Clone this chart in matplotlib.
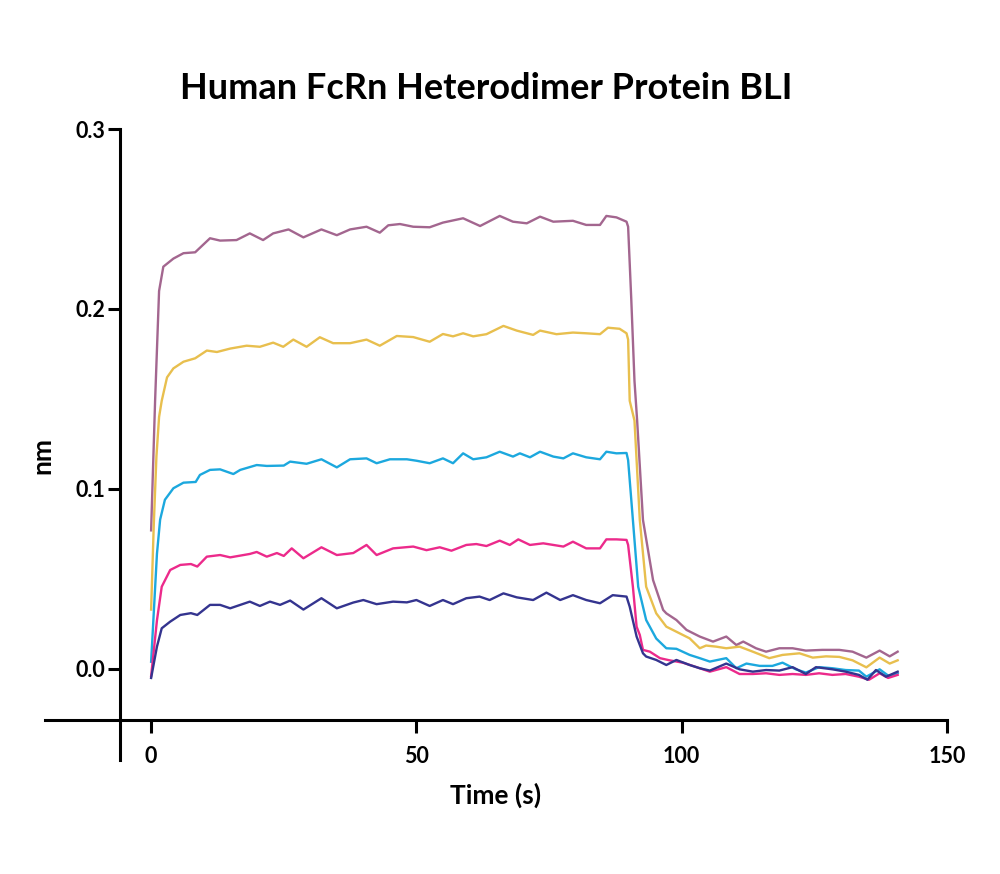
import matplotlib
matplotlib.use("Agg")
import matplotlib.pyplot as plt

plt.rcParams['font.family'] = ['Lato', 'DejaVu Sans']

title = "Human FcRn Heterodimer Protein BLI"
xlabel = "Time (s)"
ylabel = "nm"
xticks = [0, 50, 100, 150]
yticks = [0.0, 0.1, 0.2, 0.3]
ytick_labels = ["0.0", "0.1", "0.2", "0.3"]

# ---- series ----
purple_t = [0, 0.75, 1.5, 2.3, 4.2, 6.1, 8.3, 11.1, 13, 16.1, 18.6, 21.1, 23, 25.9, 28.7,
            32.1, 35, 37.5, 40.6, 43.1, 44.7, 46.9, 49.4, 52.5, 55, 58.8, 62, 65.7, 68.2,
            70.8, 73.3, 75.8, 79.5, 82, 84.6, 85.8, 87.7, 89.6, 89.9, 90.5, 91.1, 91.6,
            92.7, 94.6, 96.5, 97.1, 99, 100.9, 103.4, 105.9, 108.4, 110.3, 111.6, 114,
            115.9, 118.4, 120.9, 123.4, 126.5, 129.7, 132.2, 134.8, 137.3, 139.2, 140.7]
purple_v = [0.077, 0.149, 0.210, 0.2235, 0.228, 0.231, 0.2315, 0.2393, 0.238, 0.2383, 0.242,
            0.2383, 0.242, 0.2442, 0.2398, 0.2442, 0.241, 0.2442, 0.2457, 0.2424, 0.2465,
            0.2472, 0.2457, 0.2454, 0.248, 0.2504, 0.2461, 0.2517, 0.2485, 0.2476, 0.2513,
            0.2485, 0.249, 0.2467, 0.2467, 0.2517, 0.2509, 0.2485, 0.2457, 0.205, 0.160,
            0.138, 0.0828, 0.0494, 0.0328, 0.0309, 0.0272, 0.0217, 0.018, 0.0152, 0.018,
            0.0133, 0.0152, 0.0115, 0.0096, 0.0115, 0.0115, 0.0102, 0.0106, 0.0106, 0.0096,
            0.0063, 0.0102, 0.007, 0.0096]

gold_t = [0, 0.5, 1.0, 1.5, 2, 3, 4.2, 6.1, 8.3, 10.5, 12.4, 14.9, 18, 20.5, 23, 24.9, 26.8,
          29.3, 31.8, 34.3, 37.5, 40.6, 43.1, 46.3, 49.4, 52.5, 55, 56.9, 58.8, 60.7, 63.2,
          66.4, 68.9, 72, 73.3, 76.4, 79.5, 82, 84.6, 86.1, 88.3, 89.6, 89.9, 90.2, 91.1,
          92.1, 93.3, 95.2, 97.1, 99.6, 101.5, 103.4, 104.6, 106.5, 108.4, 110.9, 113.4,
          116.5, 119, 122.2, 124.7, 127.2, 129.7, 132.2, 134.8, 137.3, 139.2, 140.7]
gold_v = [0.033, 0.080, 0.118, 0.140, 0.149, 0.162, 0.167, 0.1707, 0.1726, 0.1769, 0.1761,
          0.178, 0.1796, 0.179, 0.1813, 0.179, 0.183, 0.179, 0.1843, 0.181, 0.181, 0.183,
          0.1796, 0.185, 0.1844, 0.1818, 0.1861, 0.1848, 0.1865, 0.1848, 0.186, 0.1906,
          0.188, 0.1856, 0.188, 0.186, 0.1869, 0.1865, 0.186, 0.1896, 0.189, 0.1865, 0.183,
          0.149, 0.138, 0.0828, 0.0457, 0.0309, 0.0235, 0.0198, 0.017, 0.0115, 0.013, 0.0124,
          0.0115, 0.0124, 0.0096, 0.006, 0.0078, 0.0087, 0.0063, 0.007, 0.0067, 0.0048,
          0.0009, 0.0063, 0.003, 0.0048]

cyan_t = [0, 1.1, 1.7, 2.6, 4.2, 6.1, 8.4, 9.2, 11.1, 13, 15.5, 16.8, 19.9, 21.8, 25, 26.2,
          29.3, 32.1, 35, 37.5, 40.6, 42.5, 45, 48.2, 50, 52.5, 55, 56.9, 58.8, 60.7, 63.2,
          65.7, 68.2, 69.5, 71.4, 73.3, 75.8, 77.7, 79.5, 82, 84.6, 85.8, 87.7, 89.6, 89.9,
          90.8, 91.8, 93.3, 95.2, 97.1, 99, 101.5, 103.4, 105.3, 108.4, 110.3, 112.2, 114.7,
          117.1, 119, 121.5, 123.4, 125.9, 128.4, 130.9, 133.4, 134.8, 137.3, 139.2, 140.7]
cyan_v = [0.004, 0.064, 0.083, 0.094, 0.1004, 0.1035, 0.1039, 0.1078, 0.1106, 0.1109, 0.1083,
          0.1106, 0.1133, 0.1128, 0.113, 0.1152, 0.114, 0.1165, 0.112, 0.1165, 0.117, 0.1143,
          0.1165, 0.1165, 0.1157, 0.1143, 0.117, 0.1143, 0.1198, 0.1165, 0.1176, 0.1207,
          0.118, 0.1198, 0.1176, 0.1207, 0.118, 0.117, 0.1198, 0.1176, 0.1165, 0.1207,
          0.1198, 0.120, 0.116, 0.0828, 0.0457, 0.0272, 0.0169, 0.0115, 0.0112, 0.0078,
          0.006, 0.0041, 0.006, 0.0004, 0.003, 0.0017, 0.0017, 0.0035, -0.0002, -0.002,
          0.001, 0.0004, -0.0006, -0.0009, -0.0043, -0.0002, -0.0043, -0.0024]

magenta_t = [0, 1.1, 2, 3.6, 5.5, 7.5, 8.7, 10.5, 13, 14.9, 18.6, 19.9, 21.8, 23.7, 25, 26.5,
             28.7, 32.1, 35, 38.1, 40.6, 42.5, 45.6, 49.4, 51.9, 54.4, 56.6, 59.4, 61.3, 63.2,
             65.7, 67.6, 69.2, 71.4, 73.9, 75.8, 77.7, 79.5, 82, 84.6, 85.8, 87.7, 89.6, 89.9,
             90.8, 91.5, 92.1, 92.7, 94, 95.9, 97.7, 100.2, 102.8, 105.3, 108.4, 110.9, 113.4,
             115.9, 118.4, 120.9, 123.4, 125.9, 128.4, 130.9, 133.4, 135.3, 137.3, 138.9, 140.7]
magenta_v = [-0.004, 0.027, 0.0457, 0.055, 0.0578, 0.0583, 0.0569, 0.0624, 0.0633, 0.062,
             0.0639, 0.065, 0.0624, 0.0644, 0.0628, 0.067, 0.0615, 0.0676, 0.0633, 0.0644,
             0.0689, 0.0633, 0.067, 0.068, 0.066, 0.0676, 0.0657, 0.0689, 0.0694, 0.0683,
             0.0713, 0.0689, 0.072, 0.0689, 0.0698, 0.0689, 0.068, 0.0707, 0.067, 0.067, 0.072,
             0.072, 0.0717, 0.0689, 0.0457, 0.0235, 0.0189, 0.0106, 0.0096, 0.006, 0.0048,
             0.0035, 0.001, -0.0015, 0.001, -0.0028, -0.0028, -0.0024, -0.0033, -0.0028,
             -0.0033, -0.0024, -0.0033, -0.0028, -0.0043, -0.006, -0.0024, -0.005, -0.0033]

navy_t = [0, 1.1, 2, 3.6, 5.5, 7.5, 8.7, 11.1, 13, 14.9, 18.6, 20.5, 22.4, 24.3, 26.2, 28.7,
          32.1, 35, 38.1, 40, 42.5, 45.6, 48.2, 50, 52.5, 55, 56.9, 59.4, 61.9, 63.8, 66.4,
          68.9, 72, 74.5, 77.1, 79.5, 82, 84.6, 87, 89.6, 90.2, 91.5, 92.7, 93.3, 95.2, 97.1,
          99, 101.5, 103.4, 105.3, 108.4, 110.9, 113.4, 115.9, 118.4, 120.9, 123.4, 125.3,
          128.4, 130.9, 133.4, 135, 136.6, 138.5, 140.7]
navy_v = [-0.005, 0.0124, 0.0226, 0.0263, 0.030, 0.031, 0.030, 0.0356, 0.0356, 0.0337, 0.0374,
          0.035, 0.0374, 0.0356, 0.038, 0.033, 0.0393, 0.0337, 0.0369, 0.0383, 0.036, 0.0374,
          0.037, 0.0383, 0.035, 0.0383, 0.036, 0.0393, 0.0402, 0.0383, 0.042, 0.0398, 0.0383,
          0.0424, 0.0383, 0.041, 0.0383, 0.0365, 0.041, 0.0402, 0.0346, 0.018, 0.0087, 0.0069,
          0.005, 0.0022, 0.005, 0.0022, 0.0004, -0.0009, 0.003, -0.0002, -0.0015, -0.0006,
          -0.0009, 0.001, -0.0028, 0.001, -0.0002, -0.0015, -0.0033, -0.006, -0.0006,
          -0.0043, -0.0015]

series = [
    (purple_t, purple_v, "#a3668f"),
    (gold_t, gold_v, "#e8bf4e"),
    (cyan_t, cyan_v, "#1ca8de"),
    (magenta_t, magenta_v, "#ec2a8b"),
    (navy_t, navy_v, "#34348f"),
]

fig = plt.figure(figsize=(10, 8.74), dpi=100)
ax = fig.add_axes([0.045, 0.1304, 0.902, 0.722])

for t, v, c in series:
    ax.plot(t, v, color=c, lw=1.7, solid_joinstyle='round')

ax.set_xlim(-20, 150)
ax.set_ylim(-0.0506, 0.3)

for s in ['top', 'right']:
    ax.spines[s].set_visible(False)
ax.spines['left'].set_position(('data', -5.8))
ax.spines['bottom'].set_position(('data', -0.0283))
ax.spines['left'].set_linewidth(2.2)
ax.spines['bottom'].set_linewidth(2.2)

ax.set_xticks(xticks)
ax.set_xticklabels([str(x) for x in xticks])
ax.set_yticks(yticks)
ax.set_yticklabels(ytick_labels)
ax.tick_params(axis='both', direction='out', length=9, width=2.2, labelsize=15.5)
ax.tick_params(axis='x', pad=10)
ax.tick_params(axis='y', pad=2)
for lab in ax.get_xticklabels() + ax.get_yticklabels():
    lab.set_fontweight('bold')

fig.text(0.486, 0.899, title, ha='center', va='center', fontsize=26, fontweight='bold')
fig.text(0.496, 0.090, xlabel, ha='center', va='center', fontsize=19, fontweight='bold')
fig.text(0.042, 0.479, ylabel, ha='center', va='center', fontsize=19, fontweight='bold',
         rotation=90)

fig.savefig("out.png", dpi=100)
